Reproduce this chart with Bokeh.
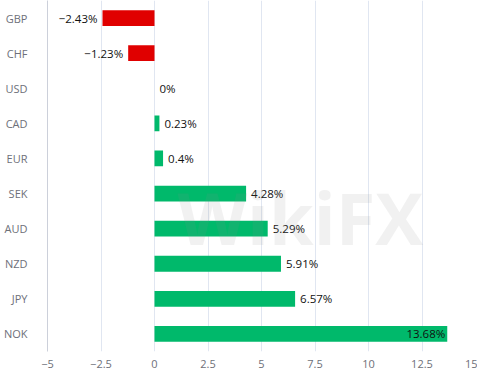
from bokeh.plotting import figure
from bokeh.models import FactorRange, Range1d, FixedTicker, ColumnDataSource, Label
from bokeh.core.properties import value
from bokeh.embed import file_html
from bokeh.resources import INLINE

currencies = ["GBP", "CHF", "USD", "CAD", "EUR", "SEK", "AUD", "NZD", "JPY", "NOK"]
changes = [-2.43, -1.23, 0, 0.23, 0.4, 4.28, 5.29, 5.91, 6.57, 13.68]
x_ticks = [-5, -2.5, 0, 2.5, 5, 7.5, 10, 12.5, 15]

FONT = "Open Sans"
RED = "#e00000"
GREEN = "#00b96b"


def fmt(v):
    s = ("%.2f" % abs(v)).rstrip("0").rstrip(".")
    return ("\u2212" if v < 0 else "") + s + "%"


vmax = max(changes)
colors = [RED if v < 0 else GREEN for v in changes]
labels = [fmt(v) for v in changes]
aligns = []
offsets = []
for v in changes:
    if v == vmax:
        aligns.append("right"); offsets.append(-2)
    elif v < 0:
        aligns.append("right"); offsets.append(-5)
    else:
        aligns.append("left"); offsets.append(5)

src = ColumnDataSource(dict(cur=currencies, val=changes, color=colors, label=labels,
                            align=aligns, xoff=offsets))

p = figure(width=477, height=370, output_backend="svg", toolbar_location=None,
           y_range=FactorRange(factors=list(reversed(currencies))),
           x_range=Range1d(-5, 15),
           min_border_left=37, min_border_right=2, min_border_top=0, min_border_bottom=0)
p.outline_line_color = None

wm = Label(x=130, y=86, x_units="screen", y_units="screen", text="WikiFX",
           text_font=FONT, text_font_size="72px", text_font_style="bold",
           text_color="#888888", text_alpha=0.12)
p.add_layout(wm)

p.hbar(y="cur", left=0, right="val", height=0.45, fill_color="color",
       line_color=None, source=src)

p.text(x="val", y="cur", text="label", source=src, text_align="align",
       x_offset="xoff", text_baseline="middle", text_font=value(FONT),
       text_font_size="11.5px", text_color="#111111")

p.xgrid.ticker = FixedTicker(ticks=x_ticks)
p.xgrid.grid_line_color = "#e0e6f1"
p.ygrid.grid_line_color = None

p.xaxis.ticker = FixedTicker(ticks=x_ticks)
p.xaxis.major_label_overrides = {t: (("\u2212" if t < 0 else "") + ("%g" % abs(t))) for t in x_ticks}
p.xaxis.axis_line_color = None
p.xaxis.major_tick_line_color = None
p.xaxis.minor_tick_line_color = None
p.xaxis.major_tick_in = 0
p.xaxis.major_tick_out = 0
p.xaxis.major_label_text_font = FONT
p.xaxis.major_label_text_font_size = "11px"
p.xaxis.major_label_text_color = "#6e7079"
p.xaxis.major_label_standoff = 8

p.yaxis.axis_line_color = "#ccd0da"
p.yaxis.major_tick_line_color = None
p.yaxis.major_label_text_font = FONT
p.yaxis.major_label_text_font_size = "11px"
p.yaxis.major_label_text_color = "#6e7079"
p.yaxis.major_label_standoff = 14

open("out.html", "w").write(file_html(p, INLINE))
